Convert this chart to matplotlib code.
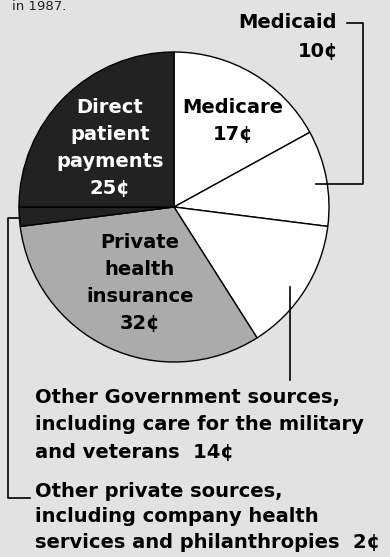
import matplotlib
matplotlib.use("Agg")
import matplotlib.pyplot as plt

# Data: cents of each health-care dollar, clockwise from 12 o'clock
categories = ["Medicare", "Medicaid", "Other Government sources", "Private health insurance",
              "Other private sources", "Direct patient payments"]
values = [17, 10, 14, 32, 2, 25]
colors = ["white", "white", "white", "#ababab", "#222222", "#222222"]

W, H = 390, 557
BG = "#e2e2e2"
plt.rcParams['font.family'] = ['DejaVu Sans']

fig = plt.figure(figsize=(W / 100, H / 100), dpi=100, facecolor=BG)
ax = fig.add_axes([0, 0, 1, 1])
ax.set_facecolor(BG)

def Y(y):
    return H - y

cx, cy, R = 174, 207, 155
ax.pie(values, colors=colors, startangle=90, counterclock=False,
       center=(cx, Y(cy)), radius=R, frame=True,
       wedgeprops=dict(edgecolor="black", linewidth=1.0))
ax.set_xlim(0, W)
ax.set_ylim(0, H)
ax.set_aspect('equal')
ax.axis('off')

fs = 14
kw = dict(fontsize=fs, fontweight='bold', linespacing=1.55)

# top text (cut in the reference)
ax.text(12, Y(0), "in 1987.", fontsize=9.5, ha='left', va='top', color='#222')

# Medicaid
ax.text(337, Y(23), "Medicaid", ha='right', va='center', **kw)
ax.text(338, Y(52), f"{values[1]}¢", ha='right', va='center', **kw)
ax.plot([347, 363, 363, 316], [Y(23), Y(23), Y(184), Y(184)], color='black', lw=1.2)

# Medicare
ax.text(233, Y(121), f"Medicare\n{values[0]}¢", ha='center', va='center', **kw)

# Direct patient payments
ax.text(110, Y(148), f"Direct\npatient\npayments\n{values[5]}¢", ha='center', va='center',
        color='white', **kw)

# Private health insurance
ax.text(140, Y(283), f"Private\nhealth\ninsurance\n{values[3]}¢", ha='center', va='center', **kw)

# Other Government sources
ax.plot([290, 290], [Y(287), Y(380)], color='black', lw=1.2)
ax.text(35, Y(425), "Other Government sources,\nincluding care for the military\n"
        f"and veterans  {values[2]}¢", ha='left', va='center', **kw)

# Other private sources
ax.plot([20, 8, 8, 30], [Y(218), Y(218), Y(498), Y(498)], color='black', lw=1.2)
ax.text(35, Y(517), "Other private sources,\nincluding company health\n"
        f"services and philanthropies  {values[4]}¢", ha='left', va='center',
        fontsize=fs, fontweight='bold', linespacing=1.45)

fig.savefig("out.png", dpi=100, facecolor=BG)
